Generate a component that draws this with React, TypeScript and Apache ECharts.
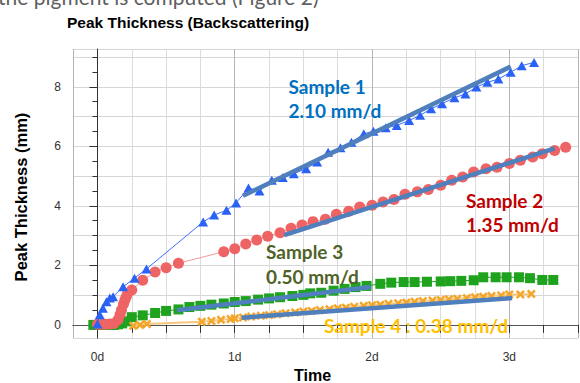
import React, { useEffect, useRef } from "react";
import * as echarts from "echarts";

// ---- Data (days, mm) ----
const s1Days = [0.0, 0.017, 0.04, 0.066, 0.09, 0.114, 0.187, 0.27, 0.357, 0.77, 0.85, 0.94, 1.01, 1.1, 1.18, 1.27, 1.35, 1.43, 1.52, 1.6, 1.68, 1.77, 1.85, 1.94, 2.01, 2.1, 2.18, 2.27, 2.35, 2.43, 2.51, 2.6, 2.68, 2.76, 2.84, 2.92, 3.01, 3.09, 3.18];
const s1Thick = [0.03, 0.34, 0.56, 0.78, 0.9, 0.95, 1.28, 1.57, 1.88, 3.46, 3.69, 3.85, 4.1, 4.6, 4.5, 4.86, 4.95, 5.08, 5.25, 5.47, 5.8, 5.95, 6.14, 6.42, 6.51, 6.62, 6.7, 6.87, 7.04, 7.26, 7.43, 7.63, 7.76, 7.99, 8.15, 8.26, 8.49, 8.71, 8.82];

const s2Days = [0.0, 0.03, 0.06, 0.09, 0.12, 0.15, 0.165, 0.175, 0.19, 0.2, 0.21, 0.22, 0.25, 0.33, 0.42, 0.5, 0.59, 0.92, 1.0, 1.08, 1.16, 1.24, 1.33, 1.41, 1.49, 1.57, 1.66, 1.74, 1.83, 1.91, 2.0, 2.08, 2.16, 2.24, 2.33, 2.41, 2.5, 2.58, 2.66, 2.74, 2.83, 2.91, 3.0, 3.08, 3.17, 3.24, 3.33, 3.41];
const s2Thick = [0.02, 0.02, 0.02, 0.03, 0.05, 0.17, 0.35, 0.5, 0.7, 0.84, 0.95, 1.06, 1.17, 1.5, 1.78, 1.92, 2.07, 2.46, 2.56, 2.72, 2.85, 2.98, 3.1, 3.25, 3.36, 3.47, 3.55, 3.72, 3.82, 3.96, 4.02, 4.13, 4.21, 4.39, 4.47, 4.55, 4.69, 4.86, 4.97, 5.14, 5.25, 5.3, 5.42, 5.53, 5.64, 5.75, 5.86, 5.97];

const s3Days = [-0.03, 0.0, 0.03, 0.06, 0.09, 0.12, 0.15, 0.18, 0.21, 0.25, 0.33, 0.42, 0.5, 0.59, 0.67, 0.75, 0.83, 0.92, 1.0, 1.08, 1.17, 1.25, 1.33, 1.42, 1.5, 1.55, 1.63, 1.72, 1.8, 1.88, 1.96, 2.06, 2.14, 2.23, 2.31, 2.4, 2.5, 2.57, 2.65, 2.74, 2.81, 2.9, 2.98, 3.07, 3.15, 3.24, 3.32];
const s3Thick = [0.0, 0.0, 0.0, 0.0, 0.0, 0.0, 0.02, 0.05, 0.12, 0.26, 0.32, 0.4, 0.47, 0.52, 0.6, 0.64, 0.68, 0.72, 0.77, 0.8, 0.85, 0.89, 0.93, 0.97, 1.01, 1.06, 1.08, 1.15, 1.21, 1.27, 1.31, 1.38, 1.42, 1.44, 1.44, 1.45, 1.46, 1.47, 1.48, 1.5, 1.6, 1.6, 1.6, 1.6, 1.57, 1.51, 1.51];

const s4Days = [0.26, 0.31, 0.36, 0.76, 0.83, 0.9, 0.97, 1.0, 1.06, 1.12, 1.19, 1.25, 1.31, 1.37, 1.44, 1.5, 1.56, 1.62, 1.69, 1.75, 1.81, 1.87, 1.94, 2.0, 2.06, 2.12, 2.19, 2.25, 2.31, 2.37, 2.44, 2.5, 2.56, 2.62, 2.69, 2.75, 2.81, 2.87, 2.94, 3.0, 3.08, 3.16];
const s4Thick = [-0.03, 0.0, 0.03, 0.11, 0.13, 0.17, 0.2, 0.22, 0.25, 0.28, 0.31, 0.33, 0.36, 0.39, 0.42, 0.45, 0.47, 0.5, 0.53, 0.56, 0.58, 0.61, 0.64, 0.66, 0.68, 0.71, 0.73, 0.75, 0.78, 0.8, 0.82, 0.84, 0.86, 0.88, 0.9, 0.93, 0.95, 0.97, 0.99, 1.02, 1.02, 1.04];

// Linear fits (start, end)
const fit1Days = [1.06, 3.01];
const fit1Thick = [4.34, 8.68];
const fit2Days = [1.36, 3.33];
const fit2Thick = [3.02, 5.93];
const fit3Days = [0.58, 1.99];
const fit3Thick = [0.49, 1.27];
const fit4Days = [1.05, 3.02];
const fit4Thick = [0.24, 0.9];

// Axis ticks / labels
const xLabelDays = [0, 1, 2, 3];
const xTickDays = [0, 0.25, 0.5, 0.75, 1, 1.25, 1.5, 1.75, 2, 2.25, 2.5, 2.75, 3, 3.25, 3.5];
const yLabelVals = [0, 2, 4, 6, 8];
const yTickVals = [0, 0.5, 1, 1.5, 2, 2.5, 3, 3.5, 4, 4.5, 5, 5.5, 6, 6.5, 7, 7.5, 8, 8.5, 9];

// Texts
const pageText = "the pigment is computed (Figure 2)";
const titleText = "Peak Thickness (Backscattering)";
const yName = "Peak Thickness (mm)";
const xName = "Time";
const s1Label = ["Sample 1", "2.10 mm/d"];
const s2Label = ["Sample 2", "1.35 mm/d"];
const s3Label = ["Sample 3", "0.50 mm/d"];
const s4Label = "Sample 4 : 0.38 mm/d";

const pairs = (xs: number[], ys: number[]) => xs.map((x, i) => [x, ys[i]]);

const X_MIN = -0.178;
const X_MAX = 3.5;
const Y_MIN = -0.44;
const Y_MAX = 9.27;

const crossPath =
  "path://M0,2 L2,0 L5,3 L8,0 L10,2 L7,5 L10,8 L8,10 L5,7 L2,10 L0,8 L3,5 Z";

export default function App() {
  const ref = useRef<HTMLDivElement>(null);

  useEffect(() => {
    document.body.style.margin = "0";
    if (!ref.current) return;
    const chart = echarts.init(ref.current, null, { renderer: "svg" });

    const annoText = (text: string, x: number, y: number, color: string) => ({
      type: "text",
      x,
      y,
      z: 100,
      style: {
        text,
        fill: color,
        fontFamily: "Lato",
        fontWeight: "bold",
        fontSize: 19,
        align: "left",
        verticalAlign: "middle",
      },
    });

    const baseX = { type: "value", min: X_MIN, max: X_MAX };
    const baseY = { type: "value", min: Y_MIN, max: Y_MAX };

    const option: any = {
      animation: false,
      backgroundColor: "#ffffff",
      grid: {
        left: 73,
        right: 2,
        top: 49,
        bottom: 45,
        containLabel: false,
        outerBoundsMode: "none",
      },
      xAxis: [
        {
          ...baseX,
          position: "bottom",
          minInterval: 0.25,
          maxInterval: 0.25,
          axisLine: { show: true, lineStyle: { color: "#333", width: 1 } },
          axisTick: {
            show: true,
            length: 8,
            customValues: xTickDays,
            lineStyle: { color: "#333" },
          },
          axisLabel: {
            show: true,
            customValues: xLabelDays,
            formatter: (v: number) => `${Math.round(v)}d`,
            color: "#333",
            fontFamily: "Liberation Sans",
            fontSize: 12,
            margin: 13,
          },
          splitLine: { show: true, lineStyle: { color: "#dcdcdc", width: 1 } },
        },
        {
          ...baseX,
          position: "bottom",
          minInterval: 1,
          maxInterval: 1,
          axisLine: { show: false },
          axisTick: { show: false },
          axisLabel: { show: false },
          splitLine: { show: true, lineStyle: { color: "#b4b4b4", width: 1 } },
        },
        {
          ...baseX,
          position: "top",
          axisLine: { show: true, lineStyle: { color: "#555", width: 1 } },
          axisTick: { show: false },
          axisLabel: { show: false },
          splitLine: { show: false },
        },
      ],
      yAxis: [
        {
          ...baseY,
          position: "left",
          minInterval: 2,
          maxInterval: 2,
          axisLine: { show: true, lineStyle: { color: "#333", width: 1 } },
          axisTick: {
            show: true,
            length: 8,
            customValues: yLabelVals,
            lineStyle: { color: "#333" },
          },
          axisLabel: {
            show: true,
            customValues: yLabelVals,
            formatter: (v: number) => `${Math.round(v)}`,
            color: "#333",
            fontFamily: "Liberation Sans",
            fontSize: 12,
            margin: 12,
          },
          splitLine: { show: false },
        },
        {
          ...baseY,
          position: "left",
          minInterval: 0.5,
          maxInterval: 0.5,
          axisLine: { show: false },
          axisTick: {
            show: true,
            length: 5,
            customValues: yTickVals,
            lineStyle: { color: "#333" },
          },
          axisLabel: { show: false },
          splitLine: { show: false },
        },
        {
          ...baseY,
          position: "left",
          minInterval: 1,
          maxInterval: 1,
          axisLine: { show: false },
          axisTick: { show: false },
          axisLabel: { show: false },
          splitLine: { show: true, lineStyle: { color: "#d6d6d6", width: 1 } },
        },
      ],
      series: [
        {
          name: "Sample 3",
          type: "line",
          xAxisIndex: 0,
          yAxisIndex: 0,
          data: pairs(s3Days, s3Thick),
          symbol: "rect",
          symbolSize: 10,
          showSymbol: true,
          itemStyle: { color: "#1fa31f" },
          lineStyle: { color: "#1fa31f", width: 1 },
          z: 2,
        },
        {
          name: "Sample 4",
          type: "line",
          xAxisIndex: 0,
          yAxisIndex: 0,
          data: pairs(s4Days, s4Thick),
          symbol: crossPath,
          symbolSize: 9,
          showSymbol: true,
          itemStyle: { color: "#f4a62a" },
          lineStyle: { color: "#f7c77e", width: 2 },
          z: 3,
        },
        {
          name: "Sample 2",
          type: "line",
          xAxisIndex: 0,
          yAxisIndex: 0,
          data: pairs(s2Days, s2Thick),
          symbol: "circle",
          symbolSize: 11,
          showSymbol: true,
          itemStyle: { color: "#ee6464" },
          lineStyle: { color: "#f29a9a", width: 1 },
          z: 4,
        },
        {
          name: "Sample 1",
          type: "line",
          xAxisIndex: 0,
          yAxisIndex: 0,
          data: pairs(s1Days, s1Thick),
          symbol: "triangle",
          symbolSize: [10, 9],
          showSymbol: true,
          itemStyle: { color: "#2a62f5" },
          lineStyle: { color: "#3d6cff", width: 1 },
          z: 5,
        },
        ...[
          [fit1Days, fit1Thick],
          [fit2Days, fit2Thick],
          [fit3Days, fit3Thick],
          [fit4Days, fit4Thick],
        ].map(([xs, ys], i) => ({
          name: `fit${i + 1}`,
          type: "line",
          xAxisIndex: 0,
          yAxisIndex: 0,
          data: pairs(xs, ys),
          showSymbol: false,
          symbol: "none",
          lineStyle: { color: "#4f7fbd", width: 4.5, cap: "butt" },
          z: 6,
        })),
      ],
      graphic: [
        {
          type: "text",
          x: -2,
          y: -4,
          z: 100,
          style: {
            text: pageText,
            fill: "#5f5f5f",
            fontFamily: "Lato",
            fontSize: 21,
            align: "left",
            verticalAlign: "middle",
          },
        },
        {
          type: "text",
          x: 67,
          y: 22.5,
          z: 100,
          style: {
            text: titleText,
            fill: "#000",
            fontFamily: "Liberation Sans",
            fontWeight: "bold",
            fontSize: 15.5,
            align: "left",
            verticalAlign: "middle",
          },
        },
        {
          type: "text",
          x: 20.5,
          y: 197,
          rotation: Math.PI / 2,
          z: 100,
          style: {
            text: yName,
            fill: "#000",
            fontFamily: "Liberation Sans",
            fontWeight: "bold",
            fontSize: 16.5,
            align: "center",
            verticalAlign: "middle",
          },
        },
        {
          type: "text",
          x: 312.5,
          y: 375,
          z: 100,
          style: {
            text: xName,
            fill: "#000",
            fontFamily: "Liberation Sans",
            fontWeight: "bold",
            fontSize: 16,
            align: "center",
            verticalAlign: "middle",
          },
        },
        annoText(s1Label[0], 288.5, 86, "#0070c0"),
        annoText(s1Label[1], 288.5, 110.5, "#0070c0"),
        annoText(s2Label[0], 466, 200, "#c00000"),
        annoText(s2Label[1], 466, 224, "#c00000"),
        annoText(s3Label[0], 266, 251.5, "#4f6228"),
        annoText(s3Label[1], 266, 276.5, "#4f6228"),
        annoText(s4Label, 324, 325, "#ffc000"),
      ],
    };

    chart.setOption(option);
    return () => chart.dispose();
  }, []);

  return <div ref={ref} style={{ width: 580, height: 383 }} />;
}
